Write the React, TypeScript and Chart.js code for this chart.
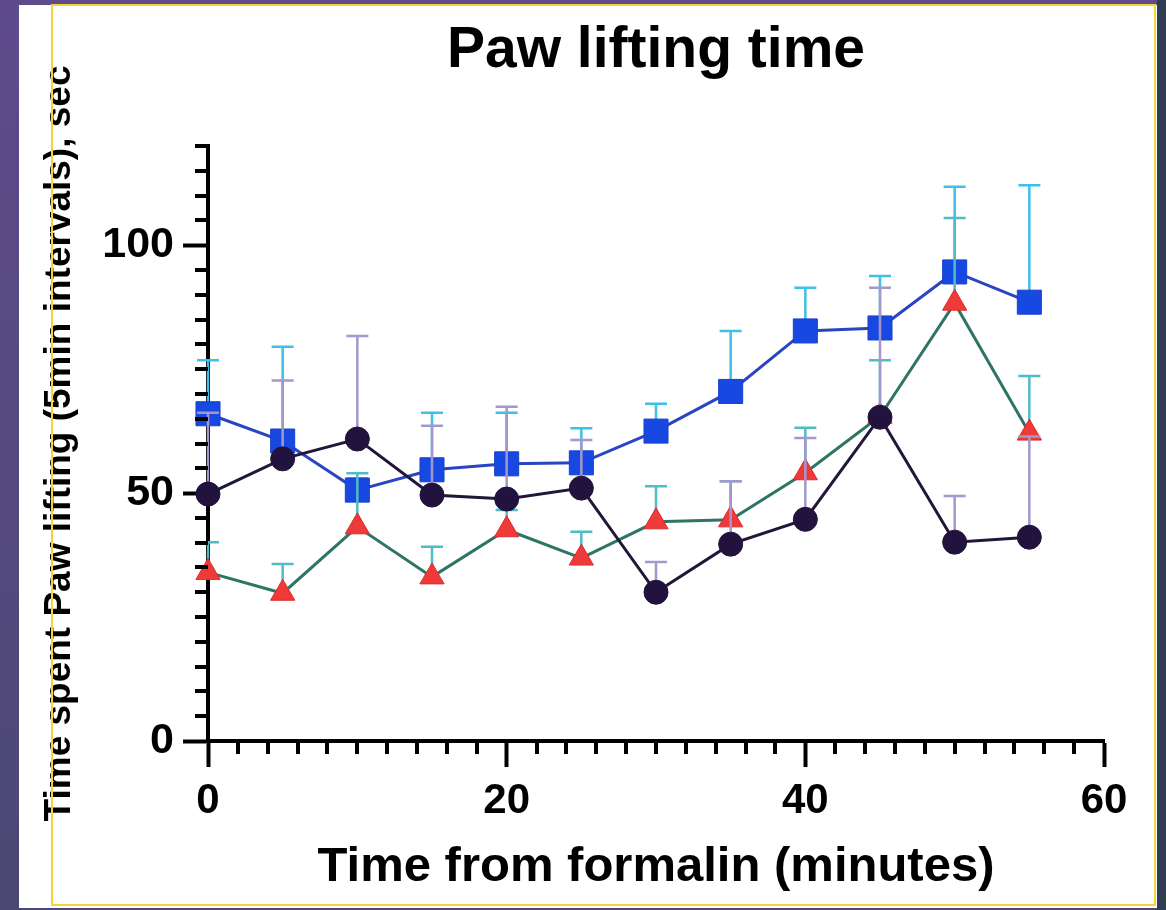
import React, { useEffect, useRef } from "react";
import { Chart, registerables } from "chart.js";

Chart.register(...registerables);

// ---------- data ----------
const chartTitle = "Paw lifting time";
const xAxisTitle = "Time from formalin (minutes)";
const yAxisTitle = "Time spent Paw lifting (5min intervals), sec";

const timePoints = [0, 5, 10, 15, 20, 25, 30, 35, 40, 45, 50, 55];

const squareMeans = [66.0, 60.5, 50.6, 54.7, 55.9, 56.1, 62.5, 70.5, 82.7, 83.3, 94.6, 88.5];
const squareErrors = [10.8, 19.0, 2.4, 11.5, 10.3, 7.0, 5.5, 12.2, 8.7, 10.5, 17.2, 23.6];

const circleMeans = [49.8, 56.9, 60.9, 49.6, 48.8, 51.0, 30.0, 39.7, 44.7, 65.3, 40.1, 41.1];
const circleErrors = [16.4, 15.8, 20.8, 14.0, 18.6, 9.7, 6.1, 12.7, 16.4, 26.1, 9.3, 20.3];

const triangleMeans = [34.0, 29.8, 43.2, 33.1, 42.6, 36.9, 44.2, 44.6, 54.1, 65.5, 88.3, 62.1];
const triangleErrors = [6.1, 5.9, 10.8, 6.1, 4.0, 5.3, 7.2, 7.8, 9.1, 11.3, 17.2, 11.5];

const xMin = 0;
const xMax = 60;
const xMinorStep = 2;
const xMajorStep = 20;
const yMin = 0;
const yMax = 120;
const yMinorStep = 5;
const yMajorStep = 50;

const FONT = "'Liberation Sans', Arial, Helvetica, sans-serif";

const toPoints = (vals: number[]) => timePoints.map((t, i) => ({ x: t, y: vals[i] }));

// ---------- plugins ----------
const errorBarPlugin = {
  id: "errorBars",
  beforeDatasetDraw(chart: any, args: any) {
    const ds = chart.data.datasets[args.index];
    if (!ds.errorBars) return;
    const { ctx } = chart;
    const xs = chart.scales.x;
    const ys = chart.scales.y;
    ctx.save();
    ctx.strokeStyle = ds.errorColor;
    ctx.lineWidth = 2.5;
    ds.data.forEach((p: any, i: number) => {
      const px = xs.getPixelForValue(p.x);
      const y0 = ys.getPixelForValue(p.y);
      const y1 = ys.getPixelForValue(p.y + ds.errorBars[i]);
      ctx.beginPath();
      ctx.moveTo(px, y0);
      ctx.lineTo(px, y1);
      ctx.moveTo(px - 11, y1);
      ctx.lineTo(px + 11, y1);
      ctx.stroke();
    });
    ctx.restore();
  },
};

const minorTickPlugin = {
  id: "minorTicks",
  afterDraw(chart: any) {
    const { ctx, chartArea } = chart;
    const xs = chart.scales.x;
    const ys = chart.scales.y;
    ctx.save();
    ctx.strokeStyle = "#000";
    ctx.lineWidth = 4;
    ctx.beginPath();
    for (let v = xMin; v <= xMax; v += xMinorStep) {
      if (v % xMajorStep === 0) continue;
      const px = Math.round(xs.getPixelForValue(v));
      ctx.moveTo(px, chartArea.bottom);
      ctx.lineTo(px, chartArea.bottom + 13);
    }
    for (let v = yMin; v <= yMax; v += yMinorStep) {
      if (v % yMajorStep === 0) continue;
      const py = Math.round(ys.getPixelForValue(v));
      ctx.moveTo(chartArea.left, py);
      ctx.lineTo(chartArea.left - 13, py);
    }
    ctx.stroke();
    ctx.restore();
  },
};

const titlePlugin = {
  id: "centerTitle",
  afterDraw(chart: any) {
    const { ctx, chartArea } = chart;
    ctx.save();
    ctx.fillStyle = "#000";
    ctx.font = `bold 57px ${FONT}`;
    ctx.textAlign = "center";
    ctx.textBaseline = "middle";
    ctx.fillText(chartTitle, (chartArea.left + chartArea.right) / 2, 51);
    ctx.restore();
  },
};

export default function App() {
  const ref = useRef<HTMLCanvasElement>(null);

  useEffect(() => {
    if (!ref.current) return;
    const chart = new Chart(ref.current, {
      type: "line",
      data: {
        datasets: [
          {
            label: "Circles",
            data: toPoints(circleMeans),
            errorBars: circleErrors,
            errorColor: "#a397cb",
            order: 0,
            borderColor: "#22163a",
            borderWidth: 3,
            pointStyle: "circle",
            pointRadius: 12,
            pointBackgroundColor: "#22123e",
            pointBorderColor: "#22123e",
            pointBorderWidth: 1,
            tension: 0,
            clip: false,
          } as any,
          {
            label: "Triangles",
            data: toPoints(triangleMeans),
            errorBars: triangleErrors,
            errorColor: "#4fbcc6",
            order: 1,
            borderColor: "#2e7566",
            borderWidth: 3,
            pointStyle: "triangle",
            pointRadius: 14,
            pointBackgroundColor: "#ef3a3a",
            pointBorderColor: "#dc2c2c",
            pointBorderWidth: 1,
            tension: 0,
            clip: false,
          } as any,
          {
            label: "Squares",
            data: toPoints(squareMeans),
            errorBars: squareErrors,
            errorColor: "#3fc0ea",
            order: 2,
            borderColor: "#2a45c2",
            borderWidth: 3,
            pointStyle: "rect",
            pointRadius: 17,
            pointBackgroundColor: "#1748e2",
            pointBorderColor: "#1a40cc",
            pointBorderWidth: 1,
            tension: 0,
            clip: false,
          } as any,
        ],
      },
      options: {
        animation: false,
        responsive: false,
        devicePixelRatio: 1,
        layout: { padding: { left: 38, right: 62, top: 146, bottom: 0 } },
        plugins: {
          legend: { display: false },
          tooltip: { enabled: false },
          title: { display: false },
        },
        scales: {
          x: {
            type: "linear",
            min: xMin,
            max: xMax,
            afterFit: (scale: any) => {
              scale.height = 169;
            },
            border: { display: true, color: "#000", width: 4 },
            grid: {
              drawOnChartArea: false,
              drawTicks: true,
              tickLength: 26,
              tickWidth: 4,
              tickColor: (c: any) => (c.tick && c.tick.value % xMajorStep === 0 ? "#000" : "rgba(0,0,0,0)"),
            },
            ticks: {
              stepSize: xMinorStep,
              autoSkip: false,
              maxRotation: 0,
              padding: 9,
              color: "#000",
              font: { family: FONT, size: 42, weight: "bold" },
              callback: (v: any) => (Number(v) % xMajorStep === 0 ? String(v) : ""),
            },
            title: {
              display: true,
              text: xAxisTitle,
              color: "#000",
              font: { family: FONT, size: 49, weight: "bold", lineHeight: 1.2 },
              padding: { top: 0, bottom: 13 },
            },
          },
          y: {
            type: "linear",
            min: yMin,
            max: yMax,
            afterFit: (scale: any) => {
              scale.width = 208 - 38;
            },
            border: { display: true, color: "#000", width: 4 },
            grid: {
              drawOnChartArea: false,
              drawTicks: true,
              tickLength: 25,
              tickWidth: 4,
              tickColor: (c: any) => (c.tick && c.tick.value % yMajorStep === 0 ? "#000" : "rgba(0,0,0,0)"),
            },
            ticks: {
              stepSize: yMinorStep,
              autoSkip: false,
              padding: 9,
              color: "#000",
              font: { family: FONT, size: 43, weight: "bold" },
              callback: (v: any) => (Number(v) % yMajorStep === 0 ? String(v) : ""),
            },
            title: {
              display: true,
              text: yAxisTitle,
              color: "#000",
              font: { family: FONT, size: 37, weight: "bold", lineHeight: 1.2 },
              padding: { top: 0, bottom: 0 },
            },
          },
        },
      },
      plugins: [errorBarPlugin, minorTickPlugin, titlePlugin],
    } as any);
    return () => chart.destroy();
  }, []);

  return (
    <div
      style={{
        position: "fixed",
        left: 0,
        top: 0,
        width: 1166,
        height: 910,
        overflow: "hidden",
        background: "linear-gradient(#5f4b8c, #4b4873)",
      }}
    >
      <div style={{ position: "absolute", left: 19, top: 5, width: 1138, height: 903, background: "#ffffff" }} />
      <div style={{ position: "absolute", left: 1157, top: 0, width: 9, height: 910, background: "#2f3d52" }} />
      <canvas
        ref={ref}
        width={1166}
        height={910}
        style={{ position: "absolute", left: 0, top: 0, width: 1166, height: 910 }}
      />
      <div
        style={{
          position: "absolute",
          left: 51,
          top: 4,
          width: 1105,
          height: 902,
          border: "2px solid #f6d13c",
          boxSizing: "border-box",
          pointerEvents: "none",
        }}
      />
    </div>
  );
}
